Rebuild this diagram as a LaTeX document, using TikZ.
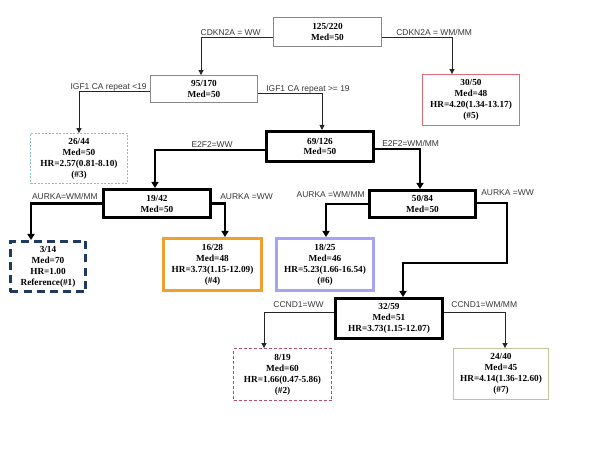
\documentclass[tikz,border=0pt]{standalone}
\usepackage{fontspec}
\setmainfont{Liberation Serif}
\newfontfamily\splitfont{Liberation Sans}
\usepackage{tikz}
\usetikzlibrary{positioning,calc,arrows.meta}
\definecolor{rootgray}{HTML}{8a8a8a}
\definecolor{hrred}{HTML}{e06a74}
\definecolor{tealdash}{HTML}{86c2bc}
\definecolor{navyref}{HTML}{1f3a5f}
\definecolor{orangebox}{HTML}{f0a030}
\definecolor{lavbox}{HTML}{a4a4f0}
\definecolor{pinkdash}{HTML}{b05070}
\definecolor{khakibox}{HTML}{c4c49c}
\definecolor{labelgray}{HTML}{383838}

\begin{document}
\begin{tikzpicture}[x=1bp, y=-1bp,
  box/.style={draw, align=center, inner sep=0pt, font=\bfseries\fontsize{9.3}{11}\selectfont},
  thinbox/.style={box, line width=0.8bp},
  thickbox/.style={box, line width=3bp},
  lbl/.style={font=\splitfont\fontsize{8.5}{9}\selectfont, text=labelgray, inner sep=1bp, text height=6bp, text depth=0pt},
  thinarr/.style={line width=0.9bp, black!85, -{Triangle[length=5bp, width=5bp]}},
  thickarr/.style={line width=2.6bp, black, -{Triangle[length=6bp, width=7bp]}}]
  \useasboundingbox (0,0) rectangle (600,471);

  % Root and first split
  \node[thinbox, draw=rootgray, minimum width=108bp, minimum height=29bp] (root) at (327.5,32) {125/220\\Med=50};
  \node[thinbox, draw=rootgray, minimum width=107bp, minimum height=27bp] (n95) at (204,89) {95/170\\Med=50};
  \node[thinbox, draw=hrred, minimum width=97bp, minimum height=51bp] (n30) at (471,100) {30/50\\Med=48\\HR=4.20(1.34-13.17)\\(\#5)};

  % IGF1 split
  \node[thinbox, draw=tealdash, dash pattern=on 2bp off 1.5bp, minimum width=97bp, minimum height=50bp] (n26) at (79,158.5) {26/44\\Med=50\\HR=2.57(0.81-8.10)\\(\#3)};
  \node[thickbox, minimum width=107bp, minimum height=30bp] (n69) at (320,146.5) {69/126\\Med=50};

  % E2F2 split
  \node[thickbox, minimum width=107bp, minimum height=28bp] (n19) at (157,203.5) {19/42\\Med=50};
  \node[thickbox, minimum width=106bp, minimum height=27bp] (n50) at (422.5,204) {50/84\\Med=50};

  % AURKA split
  \node[thickbox, draw=navyref, dash pattern=on 8bp off 5bp, minimum width=75bp, minimum height=50bp] (n3) at (48,266.5) {3/14\\Med=70\\HR=1.00\\Reference(\#1)};
  \node[thickbox, draw=orangebox, minimum width=98bp, minimum height=52bp] (n16) at (212.5,264.5) {16/28\\Med=48\\HR=3.73(1.15-12.09)\\(\#4)};
  \node[thickbox, draw=lavbox, minimum width=97bp, minimum height=52bp] (n18) at (325,264.5) {18/25\\Med=46\\HR=5.23(1.66-16.54)\\(\#6)};
  \node[thickbox, minimum width=107bp, minimum height=40bp] (n32) at (389,318.5) {32/59\\Med=51\\HR=3.73(1.15-12.07)};

  % CCND1 split
  \node[thinbox, draw=pinkdash, dash pattern=on 3bp off 2bp, minimum width=98bp, minimum height=52bp] (n8) at (282.5,374.5) {8/19\\Med=60\\HR=1.66(0.47-5.86)\\(\#2)};
  \node[thinbox, draw=khakibox, minimum width=95bp, minimum height=51bp] (n24) at (501,374) {24/40\\Med=45\\HR=4.14(1.36-12.60)\\(\#7)};

  % Connectors with split labels
  \draw[thinarr] ([yshift=-5bp]root.west) node[lbl, anchor=south east, xshift=-11bp] (lcdww) {CDKN2A = WW} -| ([xshift=-3bp]n95.north);
  \draw[thinarr] ([yshift=-5bp]root.east) node[lbl, anchor=south west, xshift=13bp] (lcdwm) {CDKN2A = WM/MM} -| ([xshift=-19bp]n30.north);
  \draw[thinarr] ([yshift=-2bp]n95.west) node[lbl, anchor=south east, xshift=-2bp] (ligflo) {IGF1 CA repeat <19} -| (n26.north);
  \draw[thinarr] ([yshift=-4bp]n95.east) node[lbl, anchor=south west, xshift=7bp] (ligfhi) {IGF1 CA repeat >= 19} -| ([xshift=2bp]n69.north);
  \draw[thickarr] ([yshift=-3.5bp]n69.west) node[lbl, anchor=south east, xshift=-30bp] (le2ww) {E2F2=WW} -| ([xshift=-2bp]n19.north);
  \draw[thickarr] ([yshift=-2.5bp]n69.east) node[lbl, anchor=south west, xshift=5bp] (le2wm) {E2F2=WM/MM} -| ([xshift=-2.5bp]n50.north);
  \draw[thickarr] (n19.west) node[lbl, anchor=south east, xshift=-2bp, yshift=2bp] (lauwm) {AURKA=WM/MM} -| ([xshift=-17bp]n3.north);
  \draw[thickarr] (n19.east) node[lbl, anchor=south west, xshift=6bp, yshift=2bp] (lauww) {AURKA =WW} -| ([xshift=12.5bp]n16.north);
  \draw[thickarr] (n50.west) node[lbl, anchor=south east, xshift=-1bp, yshift=4bp] (lbwm) {AURKA =WM/MM} -| ([xshift=1bp]n18.north);
  \draw[thickarr] ([yshift=1bp]n50.east) node[lbl, anchor=south west, xshift=2bp, yshift=5bp] (lbww) {AURKA =WW} -| ++(30,60) coordinate (bend) -| ([xshift=14bp]n32.north);
  \draw[thinarr] ([yshift=6.5bp]n32.west) node[lbl, anchor=south east, xshift=-9bp, yshift=3bp] (lccww) {CCND1=WW} -| ([xshift=-18.5bp]n8.north);
  \draw[thinarr] ([yshift=6.5bp]n32.east) node[lbl, anchor=south west, xshift=6bp, yshift=3bp] (lccwm) {CCND1=WM/MM} -| ([xshift=4bp]n24.north);
\end{tikzpicture}
\end{document}
